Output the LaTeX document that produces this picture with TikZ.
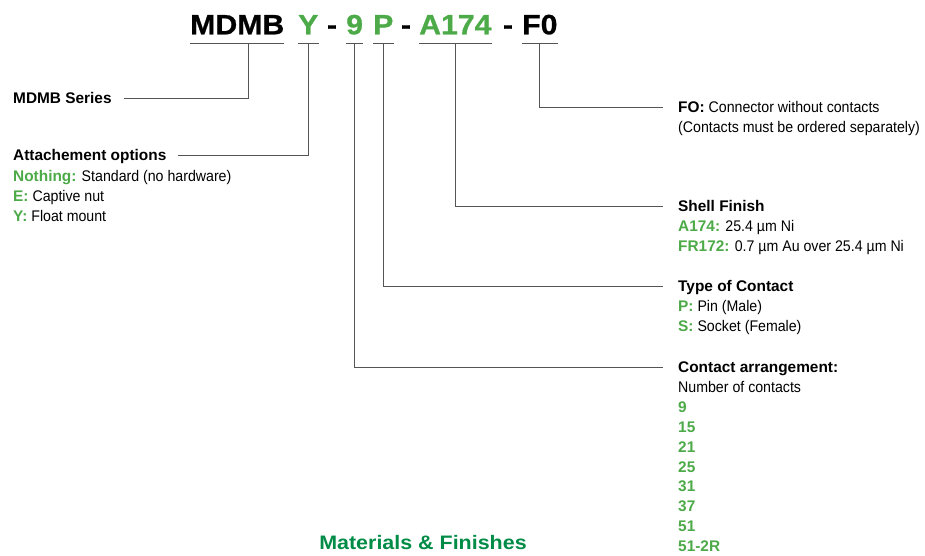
\documentclass[tikz,border=0pt]{standalone}
\usepackage{fontspec}
\setmainfont{Liberation Sans}[FakeStretch=0.92,BoldFeatures={FakeStretch=1.0}]
\newfontfamily\hdrfont{Liberation Sans}[FakeStretch=1.1]
\newfontfamily\codefont{Liberation Sans}[FakeStretch=1.08,BoldFeatures={FakeBold=0.8}]
\usetikzlibrary{calc}
\definecolor{keygreen}{HTML}{4DAA48}
\definecolor{titlegreen}{HTML}{008C46}
\definecolor{leadgray}{HTML}{555555}
\newcommand{\key}[1]{\textbf{\textcolor{keygreen}{#1}}}

\begin{document}
\begin{tikzpicture}[x=1pt,y=-1pt,
    lead/.style={leadgray,line width=1pt},
    code/.style={font=\codefont\bfseries\fontsize{28}{30}\selectfont,inner sep=0pt,anchor=base west},
    lbl/.style={font=\fontsize{15.4}{20}\selectfont,inner sep=0pt,anchor=base west}]
    \useasboundingbox (0,0) rectangle (925,555);
    % ordering code
    \node[code] (mdmb) at (190,34.3) {MDMB};
    \node[code,keygreen] (y) at (298,34.3) {Y};
    \node[code,anchor=base] (d1) at (332,34.3) {-};
    \node[code,keygreen] (nine) at (346,34.3) {9};
    \node[code,keygreen] (p) at (373,34.3) {P};
    \node[code,anchor=base] (d2) at (406,34.3) {-};
    \node[code,keygreen] (a) at (419,34.3) {A174};
    \node[code,anchor=base] (d3) at (508,34.3) {-};
    \node[code] (f) at (522,34.3) {F0};
    \foreach \p in {mdmb,y,nine,p,a,f}
        \draw[lead] ($(\p.base west)+(0,9)$) -- ($(\p.base east)+(0,9)$);

    % left side
    \node[lbl] (series) at (13,103.5) {\textbf{MDMB Series}};
    \node[lbl] (attach) at (13,160.5) {\textbf{Attachement options}};
    \node[lbl] (att1) at (13,181) {\key{Nothing:} Standard (no hardware)};
    \node[lbl] (att2) at (13,201) {\key{E:} Captive nut};
    \node[lbl] (att3) at (13,221) {\key{Y:} Float mount};

    % right side
    \node[lbl] (fo) at (678,112.5) {\textbf{FO:} Connector without contacts};
    \node[lbl] (fo2) at (678,132.5) {(Contacts must be ordered separately)};
    \node[lbl] (shell) at (678,211.5) {\textbf{Shell Finish}};
    \node[lbl] (shell1) at (678,231.5) {\key{A174:} 25.4 µm Ni};
    \node[lbl] (shell2) at (678,251.5) {\key{FR172:} 0.7 µm Au over 25.4 µm Ni};
    \node[lbl] (type) at (678,291.5) {\textbf{Type of Contact}};
    \node[lbl] (type1) at (678,311.5) {\key{P:} Pin (Male)};
    \node[lbl] (type2) at (678,331.5) {\key{S:} Socket (Female)};
    \node[lbl] (arr) at (678,372.5) {\textbf{Contact arrangement:}};
    \node[lbl] (arr0) at (678,392.4) {Number of contacts};
    \foreach \n [count=\i] in {9,15,21,25,31,37,51,51-2R}
        \node[lbl] (num\i) at (678,392.4+19.9*\i) {\key{\n}};

    \node[font=\hdrfont\bfseries\fontsize{19.5}{22}\selectfont,text=titlegreen,inner sep=0pt,anchor=base] (title) at (423,549) {Materials \& Finishes};

    % leaders
    \draw[lead] ([shift={(12,-5.5)}]series.base east) -| ($(mdmb.base)+(11.5,9)$);
    \draw[lead] ([shift={(11,-5.5)}]attach.base east) -| ($(y.base)+(0,9)$);
    \draw[lead] ($(f.base)+(0,9)$) |- ([shift={(-15,-5.5)}]fo.base west);
    \draw[lead] ($(a.base)+(0,9)$) |- ([shift={(-15,-5.5)}]shell.base west);
    \draw[lead] ($(p.base)+(0,9)$) |- ([shift={(-15,-5.5)}]type.base west);
    \draw[lead] ($(nine.base)+(0,9)$) |- ([shift={(-15,-5.5)}]arr.base west);
\end{tikzpicture}
\end{document}
